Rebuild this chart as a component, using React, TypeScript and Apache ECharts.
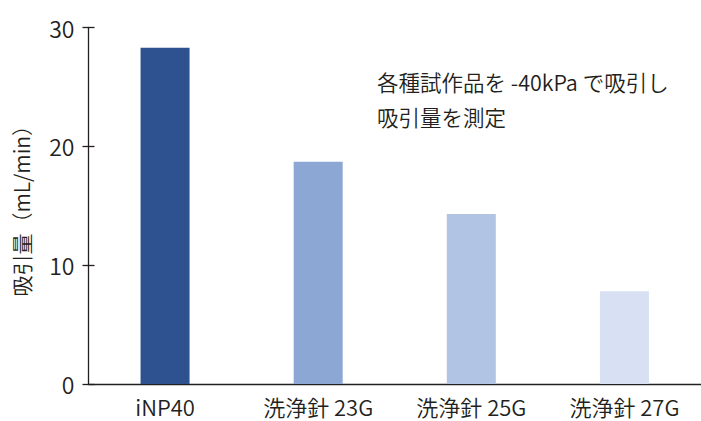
import React, { useEffect, useRef } from "react";
import * as echarts from "echarts";

const categories = ["iNP40", "洗浄針 23G", "洗浄針 25G", "洗浄針 27G"];
const values = [28.3, 18.7, 14.3, 7.8];
const barColors = ["#2e5290", "#8da7d5", "#b1c4e3", "#d7e1f3"];
const yTicks = [0, 10, 20, 30];
const yAxisName = "吸引量（mL/min）";
const noteLines = ["各種試作品を -40kPa で吸引し", "吸引量を測定"];

const FONT = "'Noto Sans CJK JP', 'Noto Sans', sans-serif";
const INK = "#231f20";
const W = 350;

export default function App() {
  const ref = useRef<HTMLDivElement>(null);
  useEffect(() => {
    if (!ref.current) return;
    const chart = echarts.init(ref.current, undefined, { renderer: "svg" });
    const yMin = yTicks[0];
    const yMax = yTicks[yTicks.length - 1];
    const interval = yTicks[1] - yTicks[0];
    chart.setOption({
      animation: false,
      backgroundColor: "#ffffff",
      textStyle: { fontFamily: FONT, fontWeight: W },
      grid: { left: 88.5, right: -2, top: 27.5, bottom: 37 },
      xAxis: {
        type: "category",
        data: categories,
        axisLine: { lineStyle: { color: INK, width: 1.3 } },
        axisTick: { show: false },
        axisLabel: { color: INK, fontSize: 22, margin: 11, fontFamily: FONT, fontWeight: W },
      },
      yAxis: [
        {
          type: "value",
          min: yMin,
          max: yMax,
          interval,
          name: yAxisName,
          nameLocation: "middle",
          nameRotate: 90,
          nameGap: 57,
          nameTextStyle: { color: INK, fontSize: 21, fontFamily: FONT, fontWeight: W },
          axisLine: { show: true, lineStyle: { color: INK, width: 1.3 } },
          axisTick: { show: true, inside: false, length: 6, lineStyle: { color: INK, width: 1.3 } },
          axisLabel: { color: INK, fontSize: 23, margin: 14, fontFamily: FONT, fontWeight: W },
          splitLine: { show: false },
        },
        {
          type: "value",
          position: "left",
          min: yMin,
          max: yMax,
          interval,
          axisLine: { show: false },
          axisTick: { show: true, inside: true, length: 6, lineStyle: { color: INK, width: 1.3 } },
          axisLabel: { show: false },
          splitLine: { show: false },
        },
      ],
      series: [
        {
          type: "bar",
          yAxisIndex: 0,
          barWidth: 49,
          data: values.map((v, i) => ({ value: v, itemStyle: { color: barColors[i] } })),
        },
      ],
      graphic: [
        {
          type: "text",
          left: 377,
          top: 64,
          style: {
            text: noteLines.join("\n"),
            fontSize: 21.5,
            lineHeight: 35,
            fill: INK,
            fontFamily: FONT,
            fontWeight: W,
          },
        },
      ],
    });
    return () => chart.dispose();
  }, []);
  return (
    <div
      ref={ref}
      style={{ position: "fixed", left: 0, top: 0, width: 701, height: 421 }}
    />
  );
}
